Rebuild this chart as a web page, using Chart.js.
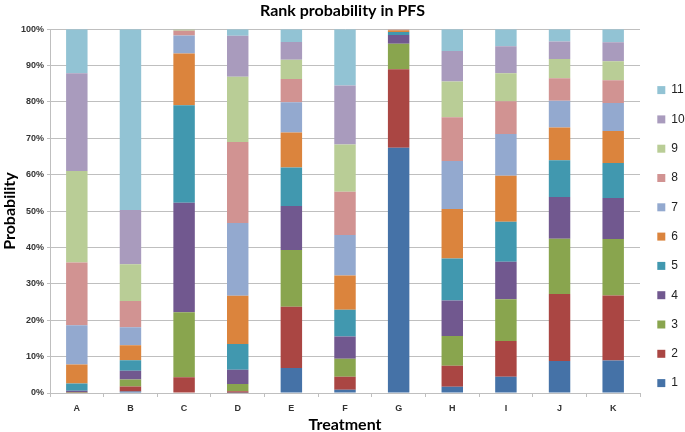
<!DOCTYPE html>
<html>
<head>
<meta charset="utf-8">
<script src="https://cdn.jsdelivr.net/npm/chart.js@4.4.0/dist/chart.umd.min.js"></script>
<style>
  html, body { margin: 0; padding: 0; background: #fff; }
  #wrap { width: 685px; height: 432px; }
</style>
</head>
<body>
<div id="wrap"><canvas id="rankChart"></canvas></div>
<script>
// 治療群
const treatments = ["A", "B", "C", "D", "E", "F", "G", "H", "I", "J", "K"];

// 順位ごとの確率（%）
const rank1 = [0.0, 0.4, 0.0, 0.1, 6.9, 0.9, 67.4, 1.7, 4.5, 8.8, 8.9];
const rank2 = [0.1, 1.4, 4.3, 0.4, 16.8, 3.6, 21.6, 5.8, 9.8, 18.4, 17.9];
const rank3 = [0.1, 1.9, 17.9, 2.0, 15.6, 4.9, 7.0, 8.2, 11.5, 15.2, 15.5];
const rank4 = [0.4, 2.4, 30.1, 3.9, 12.1, 6.1, 2.4, 9.7, 10.3, 11.5, 11.3];
const rank5 = [2.0, 2.9, 26.8, 7.1, 10.6, 7.4, 0.8, 11.6, 11.0, 10.1, 9.6];
const rank6 = [5.2, 4.1, 14.2, 13.2, 9.6, 9.4, 0.5, 13.6, 12.6, 9.0, 8.8];
const rank7 = [10.8, 5.0, 5.0, 20.0, 8.3, 11.1, 0.1, 13.2, 11.5, 7.3, 7.7];
const rank8 = [17.3, 7.2, 1.3, 22.3, 6.4, 11.9, 0.1, 12.0, 9.0, 6.2, 6.3];
const rank9 = [25.1, 10.1, 0.3, 17.9, 5.3, 13.0, 0.1, 9.8, 7.7, 5.3, 5.2];
const rank10 = [26.9, 14.9, 0.1, 11.3, 4.9, 16.2, 0.0, 8.4, 7.4, 4.8, 5.2];
const rank11 = [12.1, 49.7, 0.0, 1.8, 3.5, 15.5, 0.0, 6.0, 4.7, 3.4, 3.6];

const rankLabels = ["1", "2", "3", "4", "5", "6", "7", "8", "9", "10", "11"];
const rankValues = [rank1, rank2, rank3, rank4, rank5, rank6, rank7, rank8, rank9, rank10, rank11];

// Excel風の配色
const colors = [
  "#4572A7", "#AA4643", "#89A54E", "#71588F", "#4198AF", "#DB843D",
  "#93A9CF", "#D19392", "#B9CD96", "#A99BBD", "#92C3D4",
];

const datasets = rankLabels.map((label, i) => ({
  label: label,
  data: rankValues[i],
  backgroundColor: colors[i],
  borderWidth: 0,
  categoryPercentage: 1.0,
  barPercentage: 0.4,
}));

const tickFont = { family: "'Liberation Sans', Arial, sans-serif", size: 9, weight: "bold" };
const titleFont = { family: "Lato, 'Liberation Sans', sans-serif", size: 16, weight: "bold" };

const ctx = document.getElementById("rankChart").getContext("2d");
new Chart(ctx, {
  type: "bar",
  data: { labels: treatments, datasets: datasets },
  options: {
    responsive: true,
    maintainAspectRatio: false,
    animation: false,
    layout: { padding: 0 },
    plugins: {
      title: {
        display: true,
        text: "Rank probability in PFS",
        color: "#000",
        font: { family: "Lato, 'Liberation Sans', sans-serif", size: 16, weight: "bold" },
        padding: { top: 1, bottom: 9 },
      },
      legend: {
        display: true,
        position: "right",
        reverse: true,
        maxWidth: 45,
        title: {
          display: true,
          text: " ",
          font: { size: 1 },
          padding: { top: 40, bottom: 0 },
        },
        labels: {
          boxWidth: 8,
          boxHeight: 8,
          padding: 17.3,
          color: "#222",
          font: { family: "'Liberation Sans', Arial, sans-serif", size: 12 },
        },
      },
      tooltip: { enabled: false },
    },
    scales: {
      x: {
        stacked: true,
        grid: {
          display: true,
          drawOnChartArea: false,
          drawTicks: true,
          tickLength: 4,
          color: "#bfbfbf",
        },
        border: { color: "#bfbfbf" },
        ticks: { color: "#333", font: tickFont, padding: 6 },
        title: {
          display: true,
          text: "Treatment",
          color: "#000",
          font: titleFont,
          padding: { top: 2, bottom: -2 },
        },
        afterFit: function (scale) {
          scale.height = 39;
        },
      },
      y: {
        stacked: true,
        min: 0,
        max: 100,
        grid: { color: "#bfbfbf", tickLength: 3 },
        border: { color: "#bfbfbf" },
        ticks: {
          stepSize: 10,
          color: "#333",
          font: tickFont,
          padding: 3,
          callback: function (value) {
            return value + "%";
          },
        },
        title: {
          display: true,
          text: "Probability",
          color: "#000",
          font: titleFont,
          padding: { top: 0, bottom: 2 },
        },
        afterFit: function (scale) {
          scale.width = 50;
        },
      },
    },
  },
});
</script>
</body>
</html>
